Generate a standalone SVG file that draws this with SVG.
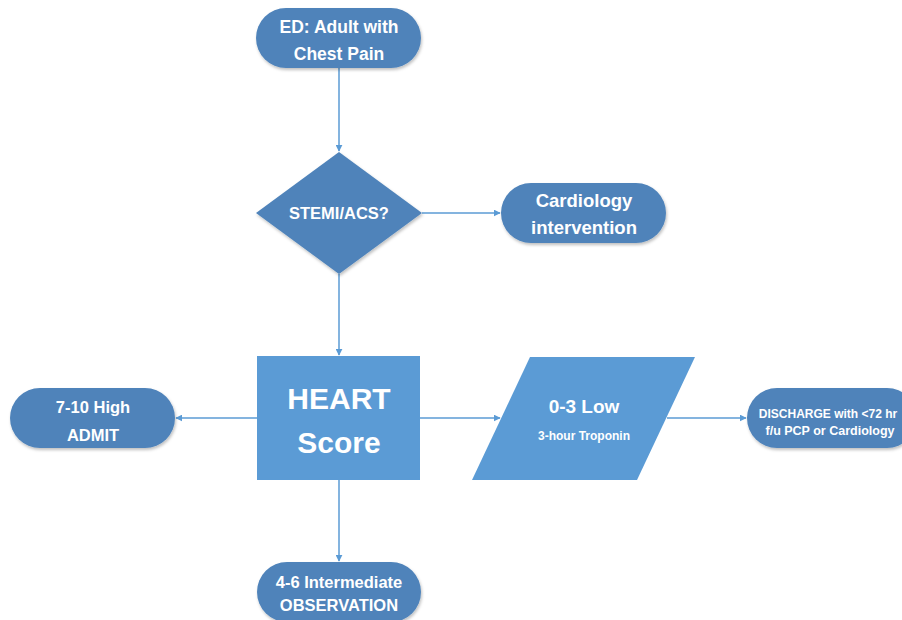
<svg xmlns="http://www.w3.org/2000/svg" width="902" height="620" viewBox="0 0 902 620">
<defs>
<marker id="arr" viewBox="0 0 10 10" refX="9" refY="5" markerWidth="7" markerHeight="7" orient="auto" markerUnits="userSpaceOnUse">
<path d="M0,0 L10,5 L0,10 z" fill="#5B9BD5"/>
</marker>
<filter id="sh" x="-10%" y="-10%" width="125%" height="135%">
<feDropShadow dx="1" dy="2" stdDeviation="1.5" flood-color="#000" flood-opacity="0.25"/>
</filter>
</defs>
<style>
.dark{fill:#4F83BA;filter:url(#sh)}
.light{fill:#5B9BD5}
.t{font-family:"Liberation Sans",Arial,sans-serif;font-weight:bold;fill:#fff;text-anchor:middle}
.c{stroke:#5B9BD5;stroke-width:1.5;fill:none}
</style>
<rect width="902" height="620" fill="#fff"/>
<g id="connectors">
<line class="c" x1="339" y1="68" x2="339" y2="151" marker-end="url(#arr)"/>
<line class="c" x1="422" y1="213" x2="500" y2="213" marker-end="url(#arr)"/>
<line class="c" x1="339" y1="274" x2="339" y2="355" marker-end="url(#arr)"/>
<line class="c" x1="257" y1="418" x2="176" y2="418" marker-end="url(#arr)"/>
<line class="c" x1="420" y1="418" x2="500" y2="418" marker-end="url(#arr)"/>
<line class="c" x1="667" y1="418" x2="746" y2="418" marker-end="url(#arr)"/>
<line class="c" x1="339" y1="480" x2="339" y2="561" marker-end="url(#arr)"/>
</g>
<g id="start">
<rect class="dark" x="256" y="8" width="165" height="60" rx="30"/>
<text class="t" x="339" y="33" font-size="17.5">ED: Adult with</text>
<text class="t" x="339" y="60" font-size="17.5">Chest Pain</text>
</g>
<g id="stemi">
<polygon class="dark" points="339,152 422,213 339,274 256,213"/>
<text class="t" x="339" y="219" font-size="16.5">STEMI/ACS?</text>
</g>
<g id="cardiology">
<rect class="dark" x="501" y="183" width="165" height="60" rx="30"/>
<text class="t" x="584" y="207" font-size="18.5">Cardiology</text>
<text class="t" x="584" y="234" font-size="18.5">intervention</text>
</g>
<g id="heart">
<rect class="light" x="257" y="356" width="163" height="124"/>
<text class="t" x="339" y="409" font-size="30">HEART</text>
<text class="t" x="339" y="453" font-size="30">Score</text>
</g>
<g id="admit">
<rect class="dark" x="10" y="388" width="165" height="60" rx="30"/>
<text class="t" x="93" y="413" font-size="16.5">7-10 High</text>
<text class="t" x="93" y="441" font-size="16.5">ADMIT</text>
</g>
<g id="low">
<polygon class="light" points="530,357 695,357 637,480 472,480"/>
<text class="t" x="584" y="413" font-size="19">0-3 Low</text>
<text class="t" x="584" y="440" font-size="12">3-hour Troponin</text>
</g>
<g id="discharge">
<rect class="dark" x="747" y="388" width="170" height="60" rx="30"/>
<text class="t" x="828" y="418" font-size="12">DISCHARGE with &lt;72 hr</text>
<text class="t" x="830" y="435" font-size="12.5">f/u PCP or Cardiology</text>
</g>
<g id="observation">
<rect class="dark" x="257" y="562" width="164" height="60" rx="30"/>
<text class="t" x="339" y="588" font-size="16.5">4-6 Intermediate</text>
<text class="t" x="339" y="611" font-size="16.5">OBSERVATION</text>
</g>
</svg>
